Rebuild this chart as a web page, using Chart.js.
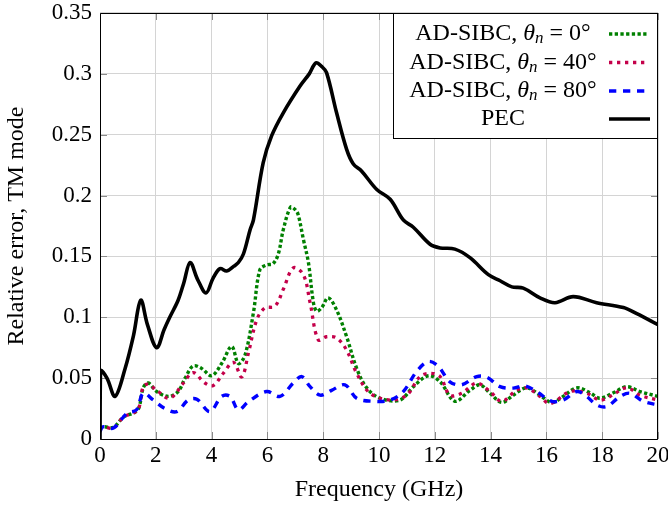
<!DOCTYPE html>
<html>
<head>
<meta charset="utf-8">
<script src="https://cdn.jsdelivr.net/npm/chart.js@4.4.1/dist/chart.umd.min.js"></script>
<style>
html,body{margin:0;padding:0;background:#fff;}
canvas{display:block;}
</style>
</head>
<body>
<canvas id="c" width="668" height="510"></canvas>
<script>
// ---- data ----
const pecFreq = [0, 0.02, 0.25, 0.54, 0.9, 1.2, 1.46, 1.7, 2.03, 2.3, 2.5, 2.8, 3.0, 3.23, 3.5, 3.8, 4.05, 4.3, 4.54, 4.8, 4.96, 5.14, 5.38, 5.5, 5.85, 6.15, 6.57, 7.17, 7.5, 7.74, 7.95, 8.12, 8.48, 8.84, 9.08, 9.38, 9.92, 10.4, 10.87, 11.23, 11.83, 12.19, 12.72, 13.26, 13.92, 14.34, 14.76, 15.17, 15.77, 16.31, 16.96, 17.8, 18.76, 19.24, 20];
const pecErr = [0, 0.056, 0.05, 0.035, 0.058, 0.085, 0.114, 0.094, 0.075, 0.09, 0.10, 0.114, 0.128, 0.145, 0.131, 0.12, 0.132, 0.14, 0.138, 0.142, 0.145, 0.152, 0.172, 0.18, 0.227, 0.249, 0.268, 0.29, 0.30, 0.309, 0.306, 0.301, 0.268, 0.238, 0.226, 0.22, 0.205, 0.197, 0.18, 0.174, 0.160, 0.157, 0.156, 0.149, 0.135, 0.13, 0.125, 0.124, 0.116, 0.112, 0.117, 0.112, 0.108, 0.103, 0.094];

const sibc0Freq = [0, 0.1, 0.48, 0.84, 1.25, 1.4, 1.55, 1.73, 2.03, 2.45, 2.8, 3.05, 3.34, 3.64, 4.0, 4.36, 4.72, 4.96, 5.2, 5.5, 5.73, 5.97, 6.2, 6.39, 6.57, 6.83, 6.99, 7.1, 7.29, 7.47, 7.65, 7.77, 7.95, 8.18, 8.48, 8.84, 9.2, 9.56, 10.04, 10.75, 11.23, 11.77, 12.19, 12.72, 13.26, 13.62, 13.98, 14.4, 14.81, 15.29, 15.77, 16.19, 16.6, 17.09, 17.56, 17.92, 18.4, 18.88, 19.35, 20];
const sibc0Err = [0.008, 0.010, 0.0096, 0.018, 0.022, 0.026, 0.042, 0.046, 0.039, 0.035, 0.039, 0.05, 0.060, 0.058, 0.052, 0.062, 0.076, 0.062, 0.069, 0.104, 0.139, 0.143, 0.144, 0.152, 0.172, 0.1905, 0.1886, 0.1845, 0.164, 0.145, 0.112, 0.105, 0.108, 0.116, 0.106, 0.084, 0.058, 0.042, 0.0335, 0.032, 0.043, 0.052, 0.047, 0.031, 0.040, 0.0445, 0.0376, 0.030, 0.036, 0.042, 0.036, 0.030, 0.035, 0.042, 0.038, 0.0335, 0.038, 0.043, 0.039, 0.035];

const sibc40Freq = [0, 0.1, 0.48, 0.84, 1.25, 1.4, 1.55, 1.73, 2.03, 2.5, 2.99, 3.34, 3.76, 4.06, 4.42, 4.78, 5.08, 5.32, 5.62, 5.91, 6.27, 6.57, 6.93, 7.29, 7.53, 7.82, 8.12, 8.48, 8.84, 9.2, 9.68, 10.4, 10.99, 11.47, 11.83, 12.19, 12.54, 12.96, 13.5, 13.98, 14.4, 14.93, 15.29, 15.77, 16.13, 16.85, 17.44, 17.92, 18.28, 18.88, 19.35, 20];
const sibc40Err = [0.008, 0.010, 0.009, 0.018, 0.022, 0.026, 0.043, 0.045, 0.040, 0.0335, 0.046, 0.0546, 0.046, 0.044, 0.054, 0.063, 0.051, 0.0706, 0.098, 0.1077, 0.109, 0.123, 0.1406, 0.135, 0.112, 0.0815, 0.084, 0.083, 0.073, 0.054, 0.0376, 0.032, 0.036, 0.0513, 0.054, 0.0513, 0.036, 0.0376, 0.0459, 0.039, 0.031, 0.040, 0.042, 0.035, 0.029, 0.039, 0.0376, 0.032, 0.035, 0.042, 0.036, 0.032];

const sibc80Freq = [0, 0.1, 0.48, 0.96, 1.31, 1.55, 1.91, 2.33, 2.75, 3.16, 3.47, 3.94, 4.36, 4.66, 4.96, 5.32, 5.97, 6.45, 6.93, 7.23, 7.53, 7.89, 8.3, 8.78, 9.2, 9.8, 10.4, 10.87, 11.35, 11.77, 12.13, 12.54, 12.96, 13.5, 13.86, 14.34, 14.81, 15.23, 15.65, 16.19, 16.6, 17.09, 17.44, 17.8, 18.16, 18.64, 19.0, 19.47, 20];
const sibc80Err = [0.006, 0.010, 0.009, 0.021, 0.024, 0.0376, 0.032, 0.025, 0.0225, 0.032, 0.0327, 0.0225, 0.035, 0.035, 0.024, 0.0307, 0.039, 0.035, 0.046, 0.0513, 0.043, 0.036, 0.040, 0.0445, 0.0335, 0.031, 0.032, 0.039, 0.0555, 0.0637, 0.0596, 0.047, 0.0445, 0.0513, 0.0508, 0.043, 0.0418, 0.0437, 0.039, 0.031, 0.032, 0.039, 0.035, 0.028, 0.0266, 0.035, 0.0376, 0.031, 0.028];

const xTickValues = [0, 2, 4, 6, 8, 10, 12, 14, 16, 18, 20];
const yTickLabels = ['0', '0.05', '0.1', '0.15', '0.2', '0.25', '0.3', '0.35'];
const legendAngles = ['0°', '40°', '80°'];
const legendPrefix = 'AD-SIBC, ';
const pecLabel = 'PEC';
const xTitle = 'Frequency (GHz)';
const yTitle = 'Relative error, TM mode';

// ---- build ----
const FONT = '"Liberation Serif", "Times New Roman", serif';
const FS = 23;   // tick labels
const FT = 24;   // titles and legend
function pts(xs, ys) { return xs.map((x, i) => ({x: x, y: ys[i]})); }

const seriesStyles = [
  {color: '#008000', width: 3.4, dash: [3.3, 2.4]},
  {color: '#c4004a', width: 3.3, dash: [3.3, 4.7]},
  {color: '#0000ff', width: 3.4, dash: [7.3, 6.7]},
  {color: '#000000', width: 3.6, dash: []}
];

const datasets = [
  {label: legendPrefix + 'θn = ' + legendAngles[0], data: pts(sibc0Freq, sibc0Err), order: 4},
  {label: legendPrefix + 'θn = ' + legendAngles[1], data: pts(sibc40Freq, sibc40Err), order: 3},
  {label: legendPrefix + 'θn = ' + legendAngles[2], data: pts(sibc80Freq, sibc80Err), order: 2},
  {label: pecLabel, data: pts(pecFreq, pecErr), order: 1}
].map((d, i) => Object.assign(d, {
  borderColor: seriesStyles[i].color,
  borderWidth: seriesStyles[i].width,
  borderDash: seriesStyles[i].dash,
  borderCapStyle: 'butt',
  borderJoinStyle: 'round',
  pointRadius: 0,
  fill: false,
  tension: 0.35
}));

const frameTicks = {
  id: 'frameTicks',
  beforeDatasetsDraw(chart) {
    const {ctx, chartArea: a, scales} = chart;
    ctx.save();
    ctx.strokeStyle = '#8a8a8a';
    ctx.lineWidth = 1;
    const L = 7;
    ctx.beginPath();
    xTickValues.forEach(v => {
      const px = Math.round(scales.x.getPixelForValue(v)) + 0.5;
      ctx.moveTo(px, a.bottom); ctx.lineTo(px, a.bottom - L);
      ctx.moveTo(px, a.top); ctx.lineTo(px, a.top + L);
    });
    yTickLabels.forEach((t, i) => {
      const py = Math.round(scales.y.getPixelForValue(i * 0.05)) + 0.5;
      ctx.moveTo(a.left, py); ctx.lineTo(a.left + L, py);
      ctx.moveTo(a.right, py); ctx.lineTo(a.right - L, py);
    });
    ctx.stroke();
    ctx.restore();
  },
  afterDatasetsDraw(chart) {
    const {ctx, chartArea: a} = chart;
    ctx.save();
    ctx.strokeStyle = '#000';
    ctx.lineWidth = 1;
    ctx.beginPath();
    ctx.rect(Math.round(a.left) + 0.5, Math.round(a.top) + 0.5, Math.round(a.right - a.left) - 1, Math.round(a.bottom - a.top));
    ctx.stroke();
    ctx.restore();
  }
};

const customLegend = {
  id: 'customLegend',
  afterDraw(chart) {
    const {ctx, chartArea: a} = chart;
    const box = {l: 393.5, t: a.top + 0.5, r: a.right - 0.5, b: 138.5};
    ctx.save();
    ctx.fillStyle = '#fff';
    ctx.fillRect(box.l, box.t, box.r - box.l, box.b - box.t);
    ctx.strokeStyle = '#000';
    ctx.lineWidth = 1;
    ctx.strokeRect(box.l, box.t, box.r - box.l, box.b - box.t);
    const rowsY = [34, 62.5, 91, 119];
    const cx = 503;
    ctx.textBaseline = 'middle';
    ctx.fillStyle = '#000';
    chart.data.datasets.forEach((ds, i) => {
      const y = rowsY[i];
      let parts;
      if (i < 3) {
        parts = [
          {t: legendPrefix, f: FT + 'px ' + FONT, dy: 0},
          {t: 'θ', f: 'italic ' + FT + 'px ' + FONT, dy: 0},
          {t: 'n', f: 'italic ' + Math.round(FT * 0.72) + 'px ' + FONT, dy: 5},
          {t: ' = ' + legendAngles[i], f: FT + 'px ' + FONT, dy: 0}
        ];
      } else {
        parts = [{t: pecLabel, f: FT + 'px ' + FONT, dy: 0}];
      }
      let w = 0;
      parts.forEach(p => { ctx.font = p.f; p.w = ctx.measureText(p.t).width; w += p.w; });
      let x = cx - w / 2;
      ctx.textAlign = 'left';
      parts.forEach(p => { ctx.font = p.f; ctx.fillText(p.t, x, y + p.dy); x += p.w; });
      ctx.beginPath();
      ctx.strokeStyle = ds.borderColor;
      ctx.lineWidth = ds.borderWidth;
      ctx.setLineDash(ds.borderDash);
      ctx.lineCap = 'butt';
      ctx.moveTo(609, y);
      ctx.lineTo(i < 3 ? 648 : 650, y);
      ctx.stroke();
      ctx.setLineDash([]);
    });
    ctx.restore();
  }
};

new Chart(document.getElementById('c'), {
  type: 'line',
  data: {datasets: datasets},
  plugins: [frameTicks, customLegend],
  options: {
    responsive: false,
    animation: false,
    devicePixelRatio: 1,
    layout: {padding: {top: 13, right: 10, left: 0, bottom: 0}},
    plugins: {legend: {display: false}, tooltip: {enabled: false}},
    scales: {
      x: {
        type: 'linear',
        min: 0, max: 20,
        afterBuildTicks(scale) { scale.ticks = xTickValues.map(v => ({value: v})); },
        afterFit(scale) { scale.height = 71; scale.paddingLeft = 0; scale.paddingRight = 0; },
        ticks: {
          color: '#000', padding: 3, maxRotation: 0, autoSkip: false,
          font: {family: FONT, size: FS},
          callback: v => String(v)
        },
        grid: {color: '#d4d4d4', lineWidth: 1, drawTicks: false},
        border: {display: false},
        title: {display: true, text: xTitle, color: '#000', font: {family: FONT, size: FT}, padding: {top: 0, bottom: 5.7}}
      },
      y: {
        type: 'linear',
        min: 0, max: 0.35,
        afterBuildTicks(scale) { scale.ticks = yTickLabels.map((t, i) => ({value: i * 0.05})); },
        afterFit(scale) { scale.width = 100; scale.paddingTop = 0; scale.paddingBottom = 0; },
        ticks: {
          color: '#000', padding: 8, autoSkip: false,
          font: {family: FONT, size: FS},
          callback: (v, i) => yTickLabels[i]
        },
        grid: {color: '#d4d4d4', lineWidth: 1, drawTicks: false},
        border: {display: false},
        title: {display: true, text: yTitle, color: '#000', font: {family: FONT, size: FT}, padding: {top: 2.5, bottom: 0}}
      }
    }
  }
});
</script>
</body>
</html>
